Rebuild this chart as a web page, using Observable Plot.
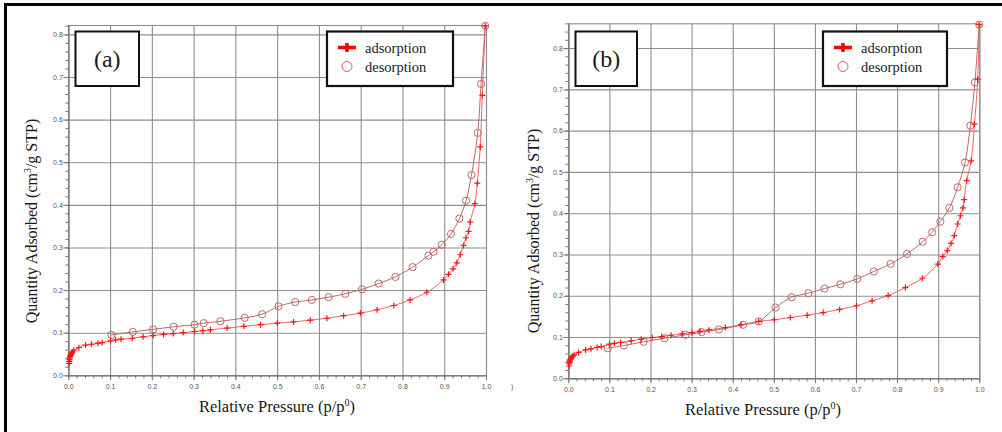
<!DOCTYPE html>
<html>
<head>
<meta charset="utf-8">
<script src="https://cdn.jsdelivr.net/npm/d3@7"></script>
<script src="https://cdn.jsdelivr.net/npm/@observablehq/plot@0.6"></script>
<style>
  html, body { margin: 0; padding: 0; background: #fff; }
  #root { position: relative; width: 1002px; height: 432px; overflow: hidden; background: #fff; }
  .panel { position: absolute; top: 0; }
  .frameTop { position: absolute; left: 4px; top: 3px; width: 1000px; height: 3px; background: #000; }
  .frameLeft { position: absolute; left: 4px; top: 3px; width: 3px; height: 430px; background: #000; }
  .serif { font-family: "Liberation Serif", "Times New Roman", serif !important; }
</style>
</head>
<body>
<div id="root"></div>
<script>
// ---------- data ----------
const xTicks = [0, 0.1, 0.2, 0.3, 0.4, 0.5, 0.6, 0.7, 0.8, 0.9, 1.0];
const yTicks = [0, 0.1, 0.2, 0.3, 0.4, 0.5, 0.6, 0.7, 0.8];
const xTickLabels = ["0.0","0.1","0.2","0.3","0.4","0.5","0.6","0.7","0.8","0.9","1.0"];
const yTickLabels = ["0.0","0.1","0.2","0.3","0.4","0.5","0.6","0.7","0.8"];
const panelLabels = ["(a)", "(b)"];
const seriesNames = ["adsorption", "desorption"];

// panel (a)
const adsAx = [0.001,0.001,0.002,0.002,0.003,0.004,0.005,0.006,0.007,0.009,0.012,0.024,0.040,0.054,0.070,0.080,0.100,0.112,0.125,0.152,0.178,0.202,0.227,0.250,0.274,0.301,0.321,0.339,0.379,0.419,0.459,0.499,0.538,0.578,0.618,0.658,0.698,0.738,0.778,0.817,0.857,0.897,0.909,0.920,0.929,0.937,0.945,0.951,0.957,0.961,0.972,0.978,0.985,0.990,0.997];
const adsAy = [0.029,0.034,0.038,0.042,0.045,0.048,0.050,0.052,0.054,0.056,0.060,0.066,0.072,0.074,0.0765,0.078,0.082,0.0845,0.086,0.088,0.0915,0.0945,0.097,0.099,0.1015,0.104,0.106,0.108,0.112,0.116,0.120,0.1235,0.1265,0.1305,0.135,0.141,0.147,0.155,0.165,0.178,0.196,0.225,0.238,0.251,0.265,0.284,0.306,0.324,0.339,0.361,0.404,0.452,0.537,0.658,0.821];
const desAx = [0.102,0.153,0.202,0.251,0.301,0.323,0.363,0.421,0.463,0.502,0.542,0.582,0.622,0.662,0.702,0.742,0.782,0.823,0.861,0.873,0.893,0.915,0.935,0.951,0.964,0.979,0.987,0.997];
const desAy = [0.096,0.103,0.109,0.115,0.120,0.1235,0.128,0.136,0.1445,0.163,0.173,0.178,0.1845,0.1925,0.203,0.2165,0.232,0.255,0.282,0.291,0.3075,0.333,0.369,0.411,0.471,0.570,0.685,0.821];

// panel (b)
const adsBx = [0.001,0.001,0.002,0.002,0.003,0.004,0.005,0.006,0.008,0.010,0.013,0.024,0.041,0.054,0.069,0.079,0.099,0.111,0.126,0.152,0.176,0.203,0.226,0.249,0.276,0.300,0.319,0.341,0.381,0.419,0.462,0.500,0.539,0.580,0.619,0.659,0.700,0.738,0.777,0.819,0.860,0.898,0.910,0.921,0.930,0.938,0.946,0.953,0.959,0.962,0.968,0.979,0.987,0.995,0.9985];
const adsBy = [0.031,0.036,0.040,0.043,0.045,0.047,0.049,0.051,0.053,0.055,0.058,0.064,0.070,0.0725,0.076,0.078,0.084,0.086,0.088,0.092,0.096,0.100,0.1025,0.1055,0.109,0.112,0.115,0.1185,0.124,0.131,0.139,0.143,0.1485,0.154,0.1605,0.168,0.177,0.189,0.2017,0.221,0.2436,0.278,0.296,0.3106,0.328,0.347,0.375,0.395,0.414,0.434,0.480,0.528,0.617,0.726,0.858];
const desBx = [0.095,0.134,0.182,0.233,0.284,0.323,0.365,0.424,0.462,0.503,0.542,0.583,0.622,0.661,0.702,0.742,0.783,0.823,0.861,0.884,0.904,0.926,0.946,0.964,0.977,0.988,0.9985];
const desBy = [0.074,0.0806,0.0896,0.0983,0.1065,0.113,0.1194,0.1307,0.139,0.1726,0.1976,0.2073,0.2186,0.229,0.242,0.260,0.2784,0.3026,0.332,0.355,0.381,0.414,0.464,0.524,0.613,0.718,0.858];

// ---------- helpers ----------
const zip = (xs, ys) => xs.map((x, i) => ({x, y: ys[i]}));
const plusSymbol = {
  draw(ctx, size) {
    const r = Math.sqrt(size / Math.PI);
    ctx.moveTo(-r, 0); ctx.lineTo(r, 0);
    ctx.moveTo(0, -r); ctx.lineTo(0, r);
  }
};
const minor = (max) => d3.range(0, Math.round(max * 50) + 1).map(i => i / 50);

const ADS_DOT = "#ff1414", ADS_LINE = "#f06666";
const DES_DOT = "#c46464", DES_LINE = "#b86a6a";
const GRID = "#8e8e8e";
const TXT = "#1a1a1a";

function serifText(sel, size) {
  return sel.attr("class", "serif").attr("font-family", "Liberation Serif")
    .style("font-size", size + "px").attr("fill", TXT);
}

function makePanel(cfg) {
  const ads = zip(cfg.ax, cfg.ay), des = zip(cfg.dx, cfg.dy);
  const svg = Plot.plot({
    width: cfg.width, height: 432,
    marginLeft: cfg.ml, marginRight: cfg.mr, marginTop: cfg.mt, marginBottom: cfg.mb,
    style: {background: "transparent", fontFamily: "'Liberation Sans', Arial, sans-serif", fontSize: "7px", color: "#555", overflow: "visible"},
    x: {domain: [0, 1], label: null},
    y: {domain: [0, cfg.ymax], label: null},
    marks: [
      Plot.gridX(xTicks, {stroke: GRID, strokeOpacity: 1, strokeWidth: 1.1}),
      Plot.gridY(yTicks, {stroke: GRID, strokeOpacity: 1, strokeWidth: 1.1}),
      Plot.frame({stroke: GRID, strokeWidth: 1.1}),
      Plot.axisX(minor(1), {tickSize: 3, tickFormat: () => "", label: null, stroke: "#777"}),
      Plot.axisX(xTicks, {tickSize: 5, tickPadding: 3, tickFormat: (d, i) => xTickLabels[i], label: null, stroke: "#777"}),
      Plot.axisY(minor(cfg.ymax), {tickSize: 3, tickFormat: () => "", label: null, stroke: "#777"}),
      Plot.axisY(yTicks, {tickSize: 5, tickPadding: 1, tickFormat: (d, i) => yTickLabels[i], label: null, stroke: "#777"}),
      Plot.ruleX([0], {stroke: "#777", strokeWidth: 1.1}),
      Plot.ruleY([0], {stroke: "#777", strokeWidth: 1.1}),
      Plot.line(ads, {x: "x", y: "y", curve: "catmull-rom", stroke: ADS_LINE, strokeWidth: 1}),
      Plot.line(des, {x: "x", y: "y", curve: "catmull-rom", stroke: DES_LINE, strokeWidth: 1}),
      Plot.dot(des, {x: "x", y: "y", r: 3.6, stroke: DES_DOT, fill: "none", strokeWidth: 1}),
      Plot.dot(ads, {x: "x", y: "y", r: 3, symbol: plusSymbol, stroke: ADS_DOT, fill: "none", strokeWidth: 1.2})
    ]
  });
  const s = d3.select(svg);
  // y axis title
  const yt = serifText(s.append("text"), 16)
    .attr("transform", `translate(${cfg.ytx},${cfg.yty}) rotate(-90)`)
    .attr("text-anchor", "middle");
  yt.append("tspan").text("Quantity Adsorbed (cm");
  yt.append("tspan").text("3").style("font-size", "10px").attr("dy", "-6");
  yt.append("tspan").text("/g STP)").attr("dy", "6");
  // x axis title
  const xt = serifText(s.append("text"), 16.5)
    .attr("x", cfg.xtx).attr("y", cfg.xty)
    .attr("text-anchor", "middle");
  xt.append("tspan").text("Relative Pressure (p/p");
  xt.append("tspan").text("0").style("font-size", "10px").attr("dy", "-6");
  xt.append("tspan").text(")").attr("dy", "6");
  // panel label box
  const b = cfg.box;
  s.append("rect").attr("x", b[0]).attr("y", b[1]).attr("width", b[2]).attr("height", b[3])
    .attr("fill", "#fff").attr("stroke", "#111").attr("stroke-width", 2);
  serifText(s.append("text"), 24).attr("x", b[0] + b[2] / 2).attr("y", b[1] + b[3] / 2 + 8)
    .attr("text-anchor", "middle").text(cfg.label);
  // legend box
  const L = cfg.legend;
  s.append("rect").attr("x", L[0]).attr("y", L[1]).attr("width", L[2]).attr("height", L[3])
    .attr("fill", "#fff").attr("stroke", "#111").attr("stroke-width", 2.2);
  const px = L[0] + 20, py1 = L[1] + 16, py2 = L[1] + 35;
  s.append("line").attr("x1", px - 9).attr("x2", px + 9).attr("y1", py1).attr("y2", py1)
    .attr("stroke", "#ff0000").attr("stroke-width", 3.5);
  s.append("line").attr("x1", px).attr("x2", px).attr("y1", py1 - 4.5).attr("y2", py1 + 4.5)
    .attr("stroke", "#ff0000").attr("stroke-width", 3.5);
  s.append("circle").attr("cx", px).attr("cy", py2).attr("r", 5)
    .attr("fill", "none").attr("stroke", "#e05858").attr("stroke-width", 1);
  serifText(s.append("text"), 14.5).attr("x", L[0] + 38).attr("y", py1 + 5)
    .attr("text-anchor", "start").text(seriesNames[0]);
  serifText(s.append("text"), 14.5).attr("x", L[0] + 38).attr("y", py2 + 5)
    .attr("text-anchor", "start").text(seriesNames[1]);
  return svg;
}

const root = document.getElementById("root");

const pa = makePanel({
  width: 500, ml: 68.3, mr: 14, mt: 25, mb: 56.7, ymax: 0.822,
  ax: adsAx, ay: adsAy, dx: desAx, dy: desAy,
  ytx: 37, yty: 221, xtx: 277, xty: 412,
  box: [75.5, 31.5, 63.5, 54.5], label: panelLabels[0],
  legend: [327, 31.5, 126, 54.5]
});
pa.classList.add("panel"); pa.style.left = "0px";
root.appendChild(pa);

const pb = makePanel({
  width: 502, ml: 68.3, mr: 22.7, mt: 23.3, mb: 53.7, ymax: 0.86,
  ax: adsBx, ay: adsBy, dx: desBx, dy: desBy,
  ytx: 39, yty: 231, xtx: 263, xty: 415,
  box: [75.5, 31.5, 61.5, 54.5], label: panelLabels[1],
  legend: [323, 31.5, 124, 54.5]
});
pb.classList.add("panel"); pb.style.left = "500px";
root.appendChild(pb);

// stray clipped glyph between panels
const stray = document.createElementNS("http://www.w3.org/2000/svg", "svg");
stray.setAttribute("width", 20); stray.setAttribute("height", 20);
stray.style.position = "absolute"; stray.style.left = "505px"; stray.style.top = "378px";
d3.select(stray).append("text").attr("x", 6).attr("y", 11).style("font-family", "'Liberation Sans', sans-serif")
  .style("font-size", "7px").attr("fill", "#555").text(")");
root.appendChild(stray);

const ft = document.createElement("div"); ft.className = "frameTop"; root.appendChild(ft);
const fl = document.createElement("div"); fl.className = "frameLeft"; root.appendChild(fl);
</script>
</body>
</html>
